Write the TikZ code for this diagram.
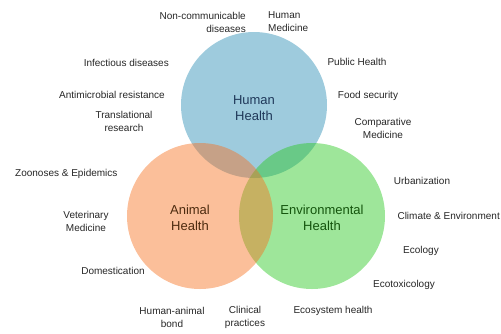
\documentclass[tikz,border=0pt]{standalone}
\usepackage{fontspec}
\setmainfont{Liberation Sans}
\usepackage{tikz}
\definecolor{hhblue}{rgb}{0.157,0.549,0.706}
\definecolor{ahorng}{rgb}{0.969,0.439,0.118}
\definecolor{ehgren}{rgb}{0.157,0.784,0.118}
\definecolor{hhtext}{rgb}{0.12,0.22,0.35}
\definecolor{ahtext}{rgb}{0.30,0.17,0.06}
\definecolor{ehtext}{rgb}{0.08,0.33,0.05}
\definecolor{lbtext}{rgb}{0.15,0.15,0.15}
\tikzset{
  topic/.style={text=lbtext,font=\fontsize{10}{13}\selectfont,inner sep=1pt},
  field/.style={font=\fontsize{13}{16}\selectfont,align=center,inner sep=1pt}
}
\begin{document}
\begin{tikzpicture}[line cap=round,line join=round,x=1pt,y=-1pt]
\useasboundingbox (0,0) rectangle (501,333);
% the three circles
\fill[hhblue,fill opacity=0.45] (254,105) circle (73);
\fill[ehgren,fill opacity=0.45] (312,216) circle (73);
\fill[ahorng,fill opacity=0.45] (200,216) circle (73);
\node[field,text=hhtext] (human) at (254,108) {Human\\Health};
\node[field,text=ahtext] (animal) at (190,218) {Animal\\Health};
\node[field,text=ehtext] (envir) at (322,218) {Environmental\\Health};
% topics round the circles
\node[topic,align=right,anchor=east] (ncd) at (247,22) {Non-communicable\\diseases};
\node[topic,align=left,anchor=west] (hmed) at (267,22) {Human\\Medicine};
\node[topic,anchor=east] (infect) at (170,63) {Infectious diseases};
\node[topic,anchor=east] (amr) at (166,95) {Antimicrobial resistance};
\node[topic,align=center] (trans) at (124,121) {Translational\\research};
\node[topic,anchor=west] (zoon) at (14,174) {Zoonoses \& Epidemics};
\node[topic,align=center] (vmed) at (86,221) {Veterinary\\Medicine};
\node[topic] (domest) at (113,271) {Domestication};
\node[topic,align=center] (hab) at (172,317) {Human-animal\\bond};
\node[topic,align=center] (clin) at (245,317) {Clinical\\practices};
\node[topic] (ecoh) at (333,311) {Ecosystem health};
\node[topic] (ecotox) at (404,285) {Ecotoxicology};
\node[topic] (ecol) at (421,251) {Ecology};
\node[topic,anchor=east] (clim) at (501,216) {Climate \& Environment};
\node[topic] (urban) at (422,181) {Urbanization};
\node[topic,align=center] (cmed) at (383,128) {Comparative\\Medicine};
\node[topic] (food) at (368,96) {Food security};
\node[topic] (public) at (357,62) {Public Health};
\end{tikzpicture}
\end{document}
